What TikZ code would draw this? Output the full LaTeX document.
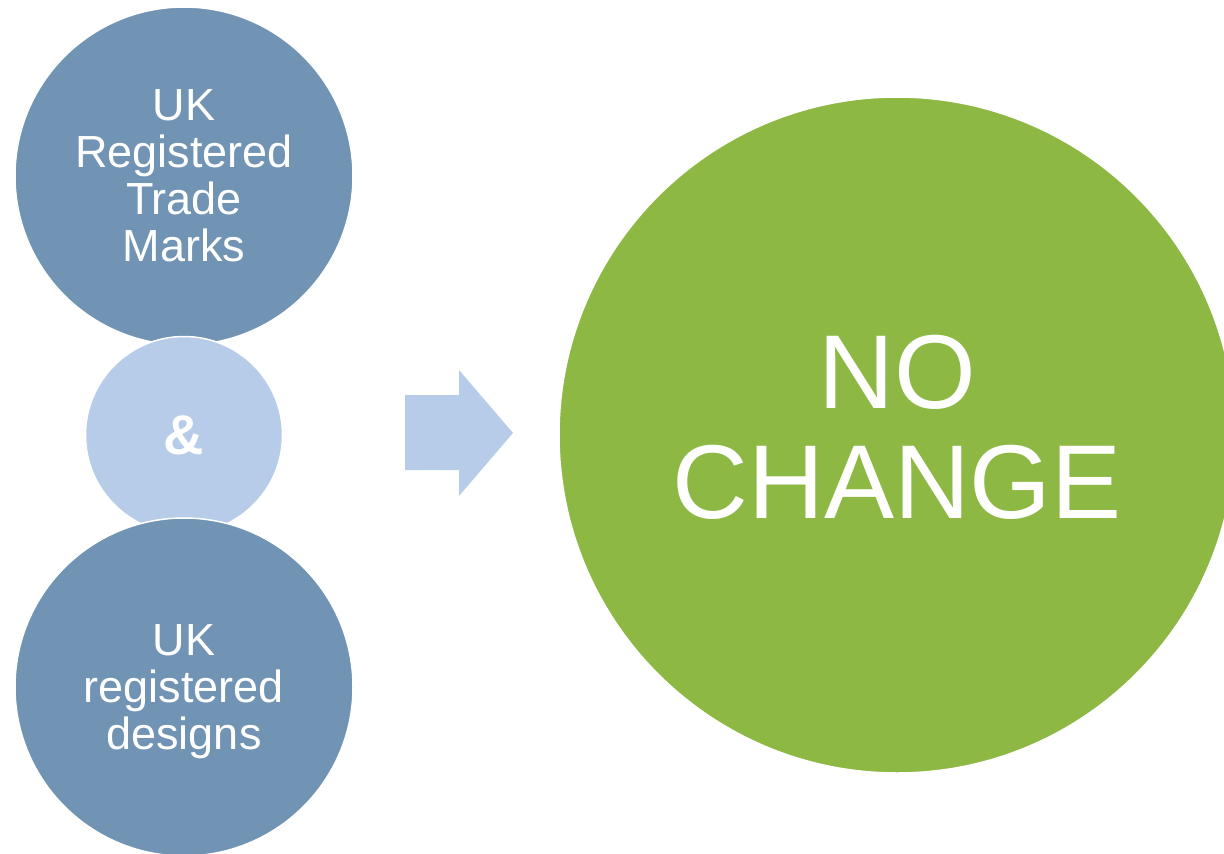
\documentclass[tikz,border=0pt]{standalone}
\usepackage{fontspec}
\setmainfont{Liberation Sans}
\usetikzlibrary{positioning}
\definecolor{steelblue}{RGB}{113,148,180}
\definecolor{paleblue}{RGB}{183,204,232}
\definecolor{leafgreen}{RGB}{141,184,67}
\begin{document}
\begin{tikzpicture}[x=1pt,y=-1pt,
    disc/.style={circle,draw=white,line width=1.5pt,text=white,align=center,inner sep=0pt},
    itemdisc/.style={disc,fill=steelblue,minimum size=338pt,font=\fontsize{45}{47}\selectfont}]
        \clip (0,0) rectangle (1224,854);
        \node[itemdisc] (marks) at (184,176) {UK\\Registered\\Trade\\Marks};
        \node[disc,fill=paleblue,minimum size=197pt,font=\fontsize{56}{60}\selectfont\bfseries] (amp) at (184,435) {\&};
        \node[itemdisc,text depth=0pt] (designs) at (184,687) {UK\\registered\\designs};
        % arrow
        \fill[paleblue] (405,395) -- (459,395) -- (459,370) -- (513,433)
            -- (459,496) -- (459,470) -- (405,470) -- cycle;
        \node[disc,fill=leafgreen,minimum size=676pt,text depth=16pt,font=\fontsize{105}{110}\selectfont] (nochange) at (897,435) {NO\\CHANGE};
      \end{tikzpicture}
\end{document}
